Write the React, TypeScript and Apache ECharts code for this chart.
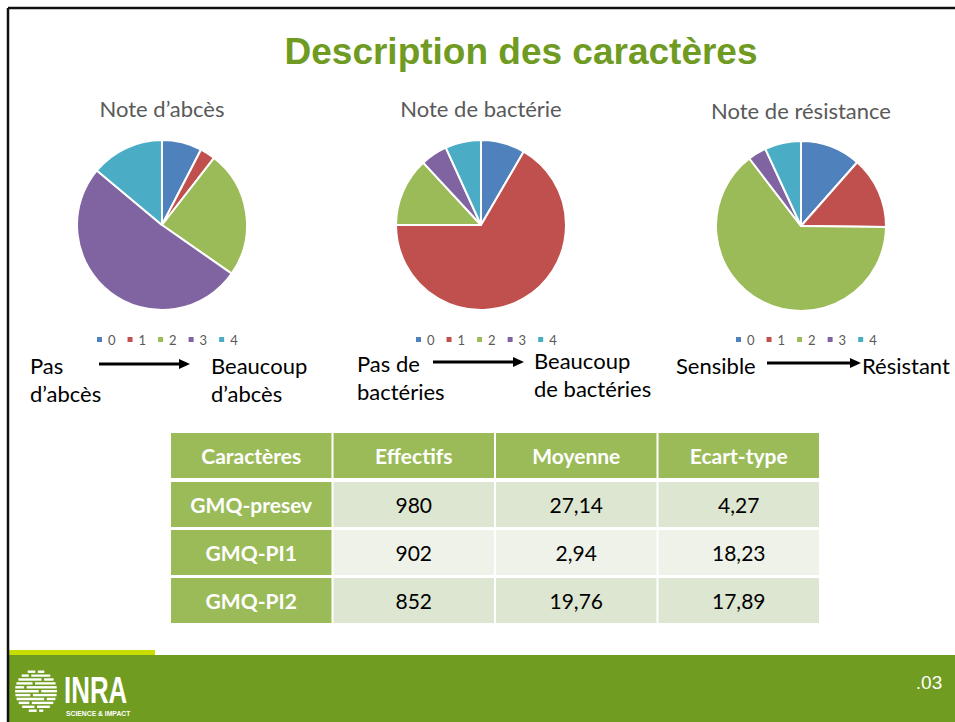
import React, { useEffect, useRef } from "react";
import * as echarts from "echarts";

const categories = ["0", "1", "2", "3", "4"];
const abcesValues = [7.6, 2.9, 24.2, 51.4, 13.9];
const bacterieValues = [8.4, 66.6, 13.1, 5.1, 6.8];
const resistanceValues = [11.5, 13.7, 64.4, 3.5, 6.9];
const pieTitles = ["Note d\u2019abc\u00e8s", "Note de bact\u00e9rie", "Note de r\u00e9sistance"];

const tableHeaders = ["Caract\u00e8res", "Effectifs", "Moyenne", "Ecart-type"];
const traitNames = ["GMQ-presev", "GMQ-PI1", "GMQ-PI2"];
const effectifs = ["980", "902", "852"];
const moyennes = ["27,14", "2,94", "19,76"];
const ecartTypes = ["4,27", "18,23", "17,89"];

const FONT = "Lato, 'Open Sans', sans-serif";
const PALETTE = ["#4F81BD", "#C0504D", "#9BBB59", "#8064A2", "#4BACC6"];

function txt(text: string, x: number, y: number, opts: any = {}) {
  const align = opts.align || "left";
  return {
    type: "text",
    x,
    y,
    scaleX: opts.scaleX || 1,
    style: {
      text,
      fill: opts.fill || "#000",
      fontSize: opts.fontSize || 22,
      fontFamily: opts.fontFamily || FONT,
      fontWeight: opts.fontWeight || "normal",
      align,
      textAlign: align,
      verticalAlign: "middle",
      textVerticalAlign: "middle",
    },
  };
}

function arrow(x1: number, x2: number, y: number) {
  return [
    { type: "line", shape: { x1, y1: y, x2: x2 - 10, y2: y }, style: { stroke: "#000", lineWidth: 3 } },
    {
      type: "polygon",
      shape: { points: [[x2 - 11, y - 5], [x2, y], [x2 - 11, y + 5]] },
      style: { fill: "#000" },
    },
  ];
}

function buildTable() {
  const els: any[] = [];
  const colX = [171, 333.5, 496, 658.5];
  const colW = 160.5;
  const rowY = [433, 482, 530, 578];
  const rowH = [45, 45, 45, 45];
  const green = "#9BBB59";
  const band = ["#DDE6D0", "#EEF2E8", "#DDE6D0"];
  tableHeaders.forEach((h, c) => {
    els.push({ type: "rect", shape: { x: colX[c], y: rowY[0], width: colW, height: rowH[0] }, style: { fill: green } });
    els.push(txt(h, colX[c] + colW / 2, rowY[0] + rowH[0] / 2, { align: "center", fill: "#fff", fontWeight: "bold", fontSize: 21 }));
  });
  traitNames.forEach((name, r) => {
    const y = rowY[r + 1];
    const h = rowH[r + 1];
    const vals = [effectifs[r], moyennes[r], ecartTypes[r]];
    els.push({ type: "rect", shape: { x: colX[0], y, width: colW, height: h }, style: { fill: green } });
    els.push(txt(name, colX[0] + colW / 2, y + h / 2, { align: "center", fill: "#fff", fontWeight: "bold", fontSize: 21 }));
    vals.forEach((v, i) => {
      const c = i + 1;
      els.push({ type: "rect", shape: { x: colX[c], y, width: colW, height: h }, style: { fill: band[r] } });
      els.push(txt(v, colX[c] + colW / 2, y + h / 2, { align: "center", fill: "#000", fontSize: 21 }));
    });
  });
  return els;
}

function buildLogo() {
  const els: any[] = [];
  const cx = 36;
  const cy = 691;
  const R = 21;
  const splits = [0.55, 0.3, 0.7, 0.45, 0.25, 0.6, 0.4, 0.75, 0.35, 0.5, 0.65];
  for (let k = 0; k < 11; k++) {
    const y = 670.5 + k * 3.9;
    const dy = y + 1.2 - cy;
    const half = Math.sqrt(Math.max(0, R * R - dy * dy));
    const x0 = cx - half;
    const w = half * 2;
    const s = x0 + w * splits[k];
    els.push({ type: "rect", shape: { x: x0, y, width: s - x0 - 1.5, height: 2.4 }, style: { fill: "#fff" } });
    els.push({ type: "rect", shape: { x: s + 1, y, width: x0 + w - s - 1, height: 2.4 }, style: { fill: "#fff" } });
  }
  els.push(txt("INRA", 64, 690, { fill: "#fff", fontSize: 37, fontWeight: "bold", fontFamily: "'Liberation Sans', Arial, sans-serif", scaleX: 0.7 }));
  els.push(txt("SCIENCE & IMPACT", 66, 713, { fill: "#fff", fontSize: 8, fontWeight: "bold", fontFamily: "'Liberation Sans', Arial, sans-serif", scaleX: 0.85 }));
  return els;
}

function pieSeries(values: number[], cx: number, cy: number, name: string) {
  return {
    type: "pie",
    name,
    center: [cx, cy],
    radius: 85,
    startAngle: 90,
    clockwise: true,
    label: { show: false },
    labelLine: { show: false },
    itemStyle: { borderColor: "#fff", borderWidth: 2 },
    emphasis: { scale: false },
    data: categories.map((c, i) => ({ name: c, value: values[i] })),
  };
}

export default function App() {
  const ref = useRef<HTMLDivElement>(null);
  useEffect(() => {
    if (!ref.current) return;
    const chart = echarts.init(ref.current, null, { renderer: "svg" });
    const pieCenters = [[162, 225], [481, 225], [801, 226]];
    const option: any = {
      animation: false,
      backgroundColor: "#fff",
      color: PALETTE,
      legend: pieCenters.map(([cx]) => ({
        left: cx - 67,
        top: 333,
        padding: 0,
        icon: "rect",
        itemWidth: 7,
        itemHeight: 7,
        itemGap: 10,
        data: categories,
        selectedMode: false,
        textStyle: { fontSize: 13, color: "#595959", fontFamily: FONT },
      })),
      series: [
        pieSeries(abcesValues, pieCenters[0][0], pieCenters[0][1], pieTitles[0]),
        pieSeries(bacterieValues, pieCenters[1][0], pieCenters[1][1], pieTitles[1]),
        pieSeries(resistanceValues, pieCenters[2][0], pieCenters[2][1], pieTitles[2]),
      ],
      graphic: [
        { type: "rect", shape: { x: 9, y: 655, width: 946, height: 67 }, style: { fill: "#6F9C21" } },
        { type: "rect", shape: { x: 9, y: 650, width: 146, height: 5 }, style: { fill: "#C8DC00" } },
        { type: "line", shape: { x1: 8, y1: 8, x2: 955, y2: 8 }, style: { stroke: "#111", lineWidth: 2.5 } },
        { type: "line", shape: { x1: 8, y1: 8, x2: 8, y2: 722 }, style: { stroke: "#111", lineWidth: 2.5 } },
        txt("Description des caract\u00e8res", 521, 51, {
          align: "center",
          fill: "#6F9B22",
          fontSize: 37,
          fontWeight: "bold",
          fontFamily: "'Liberation Sans', Arial, sans-serif",
        }),
        ...pieTitles.map((t, i) => txt(t, pieCenters[i][0], i === 2 ? 110 : 108, { align: "center", fill: "#595959", fontSize: 22 })),
        txt("Pas", 30, 365),
        txt("d\u2019abc\u00e8s", 30, 393),
        txt("Beaucoup", 211, 365),
        txt("d\u2019abc\u00e8s", 211, 393),
        ...arrow(99, 190, 364),
        txt("Pas de", 357, 363),
        txt("bact\u00e9ries", 357, 391),
        txt("Beaucoup", 534, 360),
        txt("de bact\u00e9ries", 534, 388),
        ...arrow(433, 524, 362),
        txt("Sensible", 676, 365),
        txt("R\u00e9sistant", 862, 365),
        ...arrow(767, 861, 363),
        ...buildTable(),
        ...buildLogo(),
        txt(".03", 929, 682, { align: "center", fill: "#fff", fontSize: 19, fontFamily: "'Liberation Sans', Arial, sans-serif" }),
      ],
    };
    chart.setOption(option);
    return () => chart.dispose();
  }, []);
  return <div ref={ref} style={{ position: "absolute", left: 0, top: 0, width: 955, height: 722 }} />;
}
